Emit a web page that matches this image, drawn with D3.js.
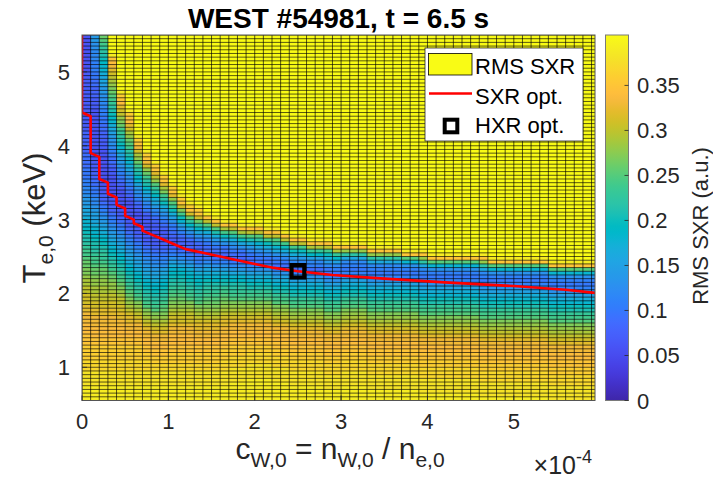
<!DOCTYPE html>
<html>
<head>
<meta charset="utf-8">
<script src="https://cdn.jsdelivr.net/npm/d3@7"></script>
<style>
  html, body { margin: 0; padding: 0; background: #ffffff; }
  svg { display: block; font-family: "Liberation Sans", Arial, Helvetica, sans-serif; }
</style>
</head>
<body>
<svg id="chart" width="713" height="486"></svg>
<script>
// ---------------------------------------------------------------------------
// Data
// ---------------------------------------------------------------------------
const titleText = "WEST #54981, t = 6.5 s";

// Scan grid: tungsten concentration c_W,0 (units of 1e-4), central T_e,0 (keV)
const cStart = 0, cStep = 0.1, cCount = 60;      // cell columns
const tTop = 5.5, tStep = 0.05, tCount = 99;     // cell rows, listed from the top
const cLimit = 5.94;                             // right edge of the axes

// RMS SXR residual per cell. One string per column (c = 0 ... 5.9e-4),
// rows listed from T = 5.5 keV downwards. A letter is a value in steps of
// 0.01 ('a' = 0.00 ... 'Z' = 0.51); a number after it repeats it.
const rmsColumns = [
  "g10h16i6j4k3l2m2no2pq2rs2tuv2wxy2zA2B2CD2E2F3G2H3I3J3K4L3M4N4",
  "o2n2m3l3k2j2i3h3g14h3i2j2k2lm2nop2qrs2tuv2wxy2zA2BC2D2E2F2G2H3I3J2K4L3M4N4",
  "Azyxwvuts2rq2po2n2m2l2k2j2i2h3g10h2i2jklmnopqrstuvwx2yzA2BC2D2E2F2G2H3I3J2K4L3M4N4",
  "Z5NJIHGFEDCBAzyxwvutsrqpon2mlkj2ih2g6h2i2jklmnopqrstuvwxyzABC2DE2F2G2H3I3J2K4L3M4N4",
  "Z15NKJIGFECBAyxwvusrqponmlkjihg5h2ijklmnopqrstuvwxyzABCDE2F2G2H2I3J2K4L3M4N4",
  "Z20NKJIGFDCAzywvusrqonmlkjihg5h2ijklmnopqrstuvwxyzABCDEFG2H2I2J2K4L3M4N4",
  "Z27NKJHFDCAywvtsqonmljihg4h2ijklmnopqrstuvwxyzBCDEFGH2I2J2K4L3M4N4",
  "Z31NKJHFCAywvtrpomlkih2g3h2ijklmnopqrstuvwxyzBCDEFGH2I2J2K2L3M4N4",
  "Z34NKJGECzxvtrqomljih2g2h2ijklmnopqrstuvwxyzBCDEFGH2I2J2K2L2M4N4",
  "Z37NKJGDBywurpnmkjih3i2jklmnpqrstuvwxyzABCDEFGH2I2J2K2L2M4N4",
  "Z40NKJGCzxurpnlkjih2iklnprstuvwxyzABCDEF2GH2I3J2K3L2M4N4",
  "Z43NKJFByuspnlji3jlmoqstuvwxyzABCDEF2GH2I3J2K3L2M4N4",
  "Z45NKJFAwtqnlji3klnprstuvwxyzBCDEF2GH2I3J2K3L2M4N4",
  "Z46NKJFAwtqnlji3klnprstuvwxyzBCDEFG2H2I2J2K3L2M4N4",
  "Z48NJEzvromkjijkmoqrsuvwxyzABCDEFG2H2I2J2K3L2M4N4",
  "Z49NJEzvromkjijlnprstvwxyzABCDEFG2H2I2J2K3L2M4N4",
  "Z50NJDyuqnkjijlnprsuvxyzABCDEFG2H2I2J2K3L3M4N4",
  "Z50NJEzvromkjikmoqstvwxyzBCDEFGH2I2J2K3L3M4N5",
  "Z51NJDyuqnkjikmoqstvwxyzBCDEFGH2I2J2K3L3M4N5",
  "Z51NJEzvromkjilnprsuvxyzBCDEFGH2I2J2K2L3M4N6",
  "Z51NJEzwsqnlkjlnprsuvxyzBCDEFGH2I2J2K2L3M4N9",
  "Z52NJEyuromkjlnprsuvxyzBCDEFGH2I2J2K2L3M4N9",
  "Z52NJEzwsqnlkjlnprsuvxyzBCDEFGH2I2J2K2L3M4N9",
  "Z53NJEyuromkjlnprsuvxyzBCDEFGH2I2J2K2L3M4N9",
  "Z54NJEyuromkjlnprsuvxyzBCDEFGH2I2J2K2L3M4N9",
  "Z54NJEyuromkjlnprsuvxyzBCDEFGH2I2J2K2L3M4N9",
  "Z55NJDxtpmljlnprsuvxyzBCDEFGH2I2J2K2L3M4N9",
  "Z55NJDxtpmljlnprsuvxyzBCDEFGH2I2J2K2L3M4N9",
  "Z55NJEyuromkjlnprsuvxyzBCDEFGH2I2J2K2L3M4N9",
  "Z56NJDxtpmljlnprsuvxyzBCDEFGH2I2J2K2L3M4N9",
  "Z56NJCwqmlklnprsuvxyzBCDEFGH2I2J2K2L3M4N9",
  "Z56NJCwqmlklnprsuvxyzBCDEFGH2I2J2K2L3M4N9",
  "Z56NJCwqmlklnprsuvxyzBCDEFGH2I2J2K2L3M4N9",
  "Z57NJCwqmlklnprsuvxyzBCDEFGH2I2J2K2L3M4N9",
  "Z57NJCwqmlklnprsuvxyzBCDEFGH2I2J2K2L3M4N9",
  "Z57NJCwqmlklnprsuvxyzBCDEFGH2I2J2K2L3M4N9",
  "Z57NJCwqmlklnprsuvxyzBCDEFGH2I2J2K2L3M4N9",
  "Z58NJzsnlklnprsuvxyzBCDEFGH2I2J2K2L3M4N9",
  "Z58NJzsnlklnprsuvxyzBCDEFGH2I2J2K2L3M4N9",
  "Z58NJCwqmlklnprsuvxyzBCDEFGH2I2J2K2L3M4N9",
  "Z59NJzsnlklnprsuvxyzBCDEFGH2I2J2K2L3M4N9",
  "Z59NJzsnlklnprsuvxyzBCDEFGH2I2J2K2L3M4N9",
  "Z59NJzsnlklnprsuvxyzBCDEFGH2I2J2K2L3M4N9",
  "Z59NJzsnlklnprsuvxyzBCDEFGH2I2J2K2L3M4N9",
  "Z59NJzsnlklnprsuvxyzBCDEFGH2I2J2K2L3M4N9",
  "Z59NJzsnlklnprsuvxyzBCDEFGH2I2J2K2L3M4N9",
  "Z59NJCwqmlklnprsuvxyzBCDEFGH2I2J2K2L3M4N9",
  "Z60NJzsnlklnprsuvxyzBCDEFGH2I2J2K2L3M4N9",
  "Z60NJzsnlklnprsuvxyzBCDEFGH2I2J2K2L3M4N9",
  "Z60NJzsnlklnprsuvxyzBCDEFGH2I2J2K2L3M4N9",
  "Z60NJzsnlklnprsuvxyzBCDEFGH2I2J2K2L3M4N9",
  "Z60NJzsnlklnprsuvxyzBCDEFGH2I2J2K2L3M4N9",
  "Z60NJzsnlklnprsuvxyzBCDEFGH2I2J2K2L3M4N9",
  "Z60NJzsnlklnprsuvxyzBCDEFGH2I2J2K2L3M4N9",
  "Z61NJzsnlklnprsuvxyzBCDEFGH2I2J2K2L3M4N9",
  "Z61NJzsnlklnprsuvxyzBCDEFGH2I2J2K2L3M4N9",
  "Z61NJzsnlklnprsuvxyzBCDEFGH2I2J2K2L3M4N9",
  "Z61NJzsnlklnprsuvxyzBCDEFGH2I2J2K2L3M4N9",
  "Z61NJzsnlklnprsuvxyzBCDEFGH2I2J2K2L3M4N9",
  "Z61NJzsnlklnprsuvxyzBCDEFGH2I2J2K2L3M4N9"
];

// SXR optimum: best c_W,0 (1e-4) found for each T_e,0 row (keV)
const sxrOptC = [0, 0, 0.1, 0.1, 0.2, 0.2, 0.3, 0.3, 0.4, 0.4, 0.5, 0.5, 0.6, 0.6, 0.7, 0.7,
                 0.8, 0.9, 1.0, 1.1, 1.2, 1.4, 1.6, 1.8, 2.0, 2.2, 2.5, 2.9, 3.5, 4.2, 5.0, 5.6, 6.0];
const sxrOptT = [5.5, 4.45, 4.4, 3.9, 3.85, 3.55, 3.5, 3.35, 3.3, 3.2, 3.15, 3.05, 3.0, 2.95, 2.9, 2.85,
                 2.8, 2.75, 2.7, 2.65, 2.6, 2.55, 2.5, 2.45, 2.4, 2.35, 2.3, 2.25, 2.2, 2.15, 2.1, 2.05, 2.0];

// HXR optimum
const hxrOptC = 2.5, hxrOptT = 2.3;

// Axis ticks
const xTicks = [0, 1, 2, 3, 4, 5];
const yTicks = [1, 2, 3, 4, 5];
const cbTicks = [0, 0.05, 0.1, 0.15, 0.2, 0.25, 0.3, 0.35];
const cbMax = 0.406;

const legendLabels = ["RMS SXR", "SXR opt.", "HXR opt."];

// parula colormap, 64 entries
const parula = [
  [0.2422,0.1504,0.6603],[0.2504,0.1650,0.7076],[0.2578,0.1818,0.7511],[0.2647,0.1978,0.7952],
  [0.2706,0.2147,0.8364],[0.2751,0.2342,0.8710],[0.2783,0.2559,0.8991],[0.2803,0.2782,0.9221],
  [0.2813,0.3006,0.9414],[0.2810,0.3228,0.9579],[0.2795,0.3447,0.9717],[0.2760,0.3667,0.9829],
  [0.2699,0.3892,0.9906],[0.2602,0.4123,0.9952],[0.2440,0.4358,0.9988],[0.2206,0.4603,0.9973],
  [0.1963,0.4847,0.9892],[0.1834,0.5074,0.9798],[0.1786,0.5289,0.9682],[0.1764,0.5499,0.9520],
  [0.1687,0.5703,0.9359],[0.1540,0.5902,0.9218],[0.1460,0.6091,0.9079],[0.1380,0.6276,0.8973],
  [0.1248,0.6459,0.8883],[0.1113,0.6635,0.8763],[0.0952,0.6798,0.8598],[0.0689,0.6948,0.8394],
  [0.0297,0.7082,0.8163],[0.0036,0.7203,0.7917],[0.0067,0.7312,0.7660],[0.0433,0.7411,0.7394],
  [0.0964,0.7500,0.7120],[0.1408,0.7584,0.6842],[0.1717,0.7670,0.6554],[0.1938,0.7758,0.6251],
  [0.2161,0.7843,0.5923],[0.2470,0.7918,0.5567],[0.2906,0.7973,0.5188],[0.3406,0.8008,0.4789],
  [0.3909,0.8029,0.4354],[0.4456,0.8024,0.3909],[0.5044,0.7993,0.3480],[0.5616,0.7942,0.3045],
  [0.6174,0.7876,0.2612],[0.6720,0.7793,0.2227],[0.7242,0.7698,0.1910],[0.7738,0.7598,0.1646],
  [0.8203,0.7498,0.1535],[0.8634,0.7406,0.1596],[0.9035,0.7330,0.1774],[0.9393,0.7288,0.2100],
  [0.9728,0.7298,0.2394],[0.9956,0.7434,0.2371],[0.9970,0.7659,0.2199],[0.9952,0.7893,0.2028],
  [0.9892,0.8136,0.1885],[0.9786,0.8386,0.1766],[0.9676,0.8639,0.1643],[0.9610,0.8890,0.1537],
  [0.9597,0.9135,0.1423],[0.9628,0.9373,0.1265],[0.9691,0.9606,0.1064],[0.9769,0.9839,0.0805]
];

// ---------------------------------------------------------------------------
// Helpers
// ---------------------------------------------------------------------------
const LEVELS = "abcdefghijklmnopqrstuvwxyzABCDEFGHIJKLMNOPQRSTUVWXYZ";
function decodeColumn(code, n) {
  const out = [];
  const re = /([a-zA-Z])(\d*)/g;
  let m;
  while ((m = re.exec(code)) !== null) {
    const v = LEVELS.indexOf(m[1]) / 100;
    const k = m[2] ? +m[2] : 1;
    for (let i = 0; i < k; i++) out.push(v);
  }
  while (out.length < n) out.push(out[out.length - 1]);
  return out.slice(0, n);
}

const toHex = c => d3.rgb(c[0] * 255, c[1] * 255, c[2] * 255).formatHex();
const parulaHex = parula.map(toHex);
const color = d3.scaleLinear()
  .domain(parulaHex.map((_, i) => i / (parulaHex.length - 1) * cbMax))
  .range(parulaHex)
  .clamp(true);

const INK = "#262626";

const svg = d3.select("#chart");
const plot = { left: 82, right: 595, top: 35, bottom: 400.5 };
const x = d3.scaleLinear().domain([cStart, cLimit]).range([plot.left, plot.right]);
const y = d3.scaleLinear().domain([tTop - tStep * tCount, tTop]).range([plot.bottom, plot.top]);

function textAt(px, py, opts) {
  const rot = opts.rotate ? ` rotate(${opts.rotate})` : "";
  const g = svg.append("g").attr("transform", `translate(${px},${py})${rot}`);
  const t = g.append("text")
    .attr("text-anchor", opts.anchor || "start")
    .attr("fill", opts.fill || INK)
    .style("font-size", opts.size + "px")
    .style("font-weight", opts.bold ? "bold" : "normal");
  (opts.parts || [{ text: opts.text }]).forEach(p => {
    const ts = t.append("tspan").text(p.text);
    if (p.dy) ts.attr("dy", p.dy);
    if (p.size) ts.style("font-size", p.size + "px");
  });
  return t;
}

// ---------------------------------------------------------------------------
// Heat map cells
// ---------------------------------------------------------------------------
svg.append("defs").append("clipPath").attr("id", "plotClip")
  .append("rect")
  .attr("x", plot.left).attr("y", plot.top)
  .attr("width", plot.right - plot.left).attr("height", plot.bottom - plot.top);

const cells = [];
rmsColumns.forEach((code, j) => {
  const vals = decodeColumn(code, tCount);
  vals.forEach((v, r) => {
    cells.push({ c0: cStart + j * cStep, c1: cStart + (j + 1) * cStep,
                 t1: tTop - r * tStep, t0: tTop - (r + 1) * tStep, v });
  });
});

const field = svg.append("g").attr("clip-path", "url(#plotClip)");
field.selectAll("rect.cell").data(cells).join("rect")
  .attr("class", "cell")
  .attr("x", d => x(d.c0))
  .attr("y", d => y(d.t1))
  .attr("width", d => x(d.c1) - x(d.c0) + 0.4)
  .attr("height", d => y(d.t0) - y(d.t1) + 0.4)
  .attr("fill", d => color(d.v));

// cell edges
const cEdges = d3.range(cCount + 1).map(i => cStart + i * cStep);
const tEdges = d3.range(tCount + 1).map(i => tTop - i * tStep);
field.selectAll("line.vedge").data(cEdges).join("line")
  .attr("class", "vedge")
  .attr("x1", d => x(d)).attr("x2", d => x(d))
  .attr("y1", plot.top).attr("y2", plot.bottom)
  .attr("stroke", "#000").attr("stroke-width", 0.65);
field.selectAll("line.hedge").data(tEdges).join("line")
  .attr("class", "hedge")
  .attr("x1", plot.left).attr("x2", plot.right)
  .attr("y1", d => y(d)).attr("y2", d => y(d))
  .attr("stroke", "#000").attr("stroke-width", 0.65);

// SXR optimum line
const optLine = d3.line().x(d => x(d[0])).y(d => y(d[1]));
field.append("path")
  .datum(sxrOptC.map((c, i) => [c, sxrOptT[i]]))
  .attr("d", optLine)
  .attr("fill", "none")
  .attr("stroke", "#ff0000")
  .attr("stroke-width", 2.6)
  .attr("stroke-linejoin", "round");

// HXR optimum marker
const mk = 12.6;
svg.append("rect")
  .attr("x", x(hxrOptC) - mk / 2).attr("y", y(hxrOptT) - mk / 2)
  .attr("width", mk).attr("height", mk)
  .attr("fill", "none").attr("stroke", "#000").attr("stroke-width", 4);

// ---------------------------------------------------------------------------
// Axes
// ---------------------------------------------------------------------------
svg.append("rect")
  .attr("x", plot.left).attr("y", plot.top)
  .attr("width", plot.right - plot.left).attr("height", plot.bottom - plot.top)
  .attr("fill", "none").attr("stroke", "#555").attr("stroke-width", 1);

xTicks.forEach(t => {
  svg.append("line").attr("x1", x(t)).attr("x2", x(t))
    .attr("y1", plot.bottom).attr("y2", plot.bottom - 5)
    .attr("stroke", INK).attr("stroke-width", 0.8);
  textAt(x(t), 429, { text: String(t), size: 22, anchor: "middle" });
});
yTicks.forEach(t => {
  svg.append("line").attr("x1", plot.left).attr("x2", plot.left + 5)
    .attr("y1", y(t)).attr("y2", y(t))
    .attr("stroke", INK).attr("stroke-width", 0.8);
  textAt(70, y(t) + 8, { text: String(t), size: 22, anchor: "end" });
});

// axis labels
textAt(340, 459, { size: 30, anchor: "middle", parts: [
  { text: "c" }, { text: "W,0", size: 21, dy: 8 },
  { text: " = n", dy: -8 }, { text: "W,0", size: 21, dy: 8 },
  { text: " / n", dy: -8 }, { text: "e,0", size: 21, dy: 8 }
]});
textAt(592, 474, { size: 25, anchor: "end", parts: [
  { text: "\u00d710" }, { text: "-4", size: 18, dy: -11 }
]});
textAt(45, 218, { size: 31, anchor: "middle", rotate: -90, parts: [
  { text: "T" }, { text: "e,0", size: 21, dy: 8 }, { text: " (keV)", dy: -8 }
]});

// title
textAt(338.5, 28, { text: titleText, size: 28, bold: true, anchor: "middle", fill: "#000" });

// ---------------------------------------------------------------------------
// Colour bar
// ---------------------------------------------------------------------------
const cb = { left: 605.5, right: 628.5, top: plot.top, bottom: plot.bottom };
const cy = d3.scaleLinear().domain([0, cbMax]).range([cb.bottom, cb.top]);
const grad = svg.select("defs").append("linearGradient")
  .attr("id", "cbGrad").attr("x1", 0).attr("y1", 1).attr("x2", 0).attr("y2", 0);
parulaHex.forEach((h, i) => {
  grad.append("stop").attr("offset", i / (parulaHex.length - 1)).attr("stop-color", h);
});
svg.append("rect")
  .attr("x", cb.left).attr("y", cb.top)
  .attr("width", cb.right - cb.left).attr("height", cb.bottom - cb.top)
  .attr("fill", "url(#cbGrad)")
  .attr("stroke", "#7a7a7a").attr("stroke-width", 1);
cbTicks.forEach(t => {
  svg.append("line")
    .attr("x1", cb.right - 4).attr("x2", cb.right)
    .attr("y1", cy(t)).attr("y2", cy(t))
    .attr("stroke", INK).attr("stroke-width", 0.8);
  textAt(637, cy(t) + 8, { text: String(t), size: 22 });
});
textAt(708, 226, { text: "RMS SXR (a.u.)", size: 22, anchor: "middle", rotate: -90 });

// ---------------------------------------------------------------------------
// Legend
// ---------------------------------------------------------------------------
const lg = { x: 425, y: 48, w: 158, h: 93 };
svg.append("rect")
  .attr("x", lg.x).attr("y", lg.y).attr("width", lg.w).attr("height", lg.h)
  .attr("fill", "#fff").attr("stroke", INK).attr("stroke-width", 0.8);
svg.append("rect")
  .attr("x", 428.5).attr("y", 53.5).attr("width", 43.5).attr("height", 21.5)
  .attr("fill", color(cbMax)).attr("stroke", "#000").attr("stroke-width", 0.8);
svg.append("line")
  .attr("x1", 429).attr("x2", 472).attr("y1", 93.5).attr("y2", 93.5)
  .attr("stroke", "#ff0000").attr("stroke-width", 2.6);
svg.append("rect")
  .attr("x", 451 - mk / 2).attr("y", 126 - mk / 2).attr("width", mk).attr("height", mk)
  .attr("fill", "none").attr("stroke", "#000").attr("stroke-width", 4);
[74, 103.5, 133].forEach((by, i) => {
  textAt(475, by, { text: legendLabels[i], size: 22, fill: "#000" });
});
</script>
</body>
</html>
